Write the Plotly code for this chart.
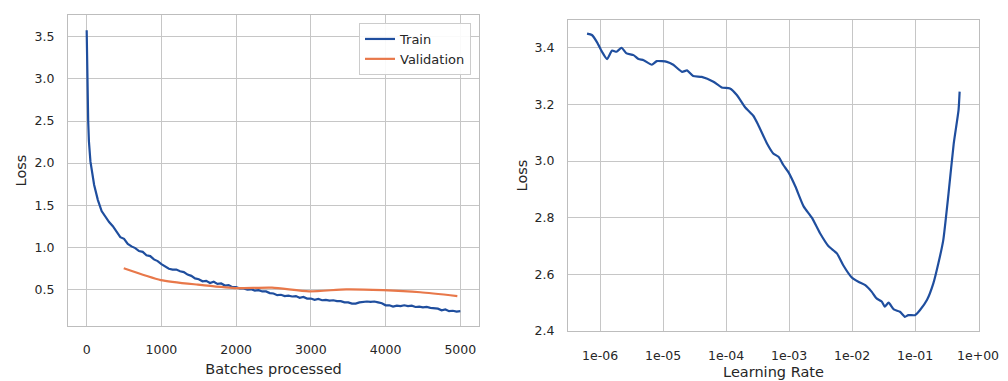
import plotly.graph_objects as go

# ---------------- data ----------------
train_x = [0, 5, 10, 20, 30, 40] + list(range(50, 5001, 50))
train_loss = [3.58, 3.20, 2.80, 2.50, 2.26, 2.12,
              2.02, 1.74, 1.56, 1.43, 1.36, 1.30, 1.25, 1.19, 1.12, 1.10,
              1.04, 1.01, 0.99, 0.955, 0.945, 0.905, 0.895, 0.855, 0.835, 0.80,
              0.775, 0.745, 0.735, 0.735, 0.715, 0.705, 0.675, 0.66, 0.63, 0.62,
              0.595, 0.60, 0.575, 0.59, 0.565, 0.57, 0.545, 0.55, 0.525, 0.525,
              0.51, 0.51, 0.495, 0.50, 0.485, 0.49, 0.475, 0.475, 0.455, 0.45,
              0.43, 0.435, 0.42, 0.425, 0.415, 0.42, 0.40, 0.41, 0.39, 0.39,
              0.375, 0.385, 0.37, 0.375, 0.365, 0.37, 0.36, 0.36, 0.345, 0.345,
              0.33, 0.33, 0.345, 0.35, 0.355, 0.35, 0.355, 0.345, 0.335, 0.31,
              0.31, 0.295, 0.305, 0.30, 0.31, 0.30, 0.305, 0.29, 0.295, 0.285,
              0.29, 0.28, 0.275, 0.27, 0.25, 0.26, 0.24, 0.245, 0.235, 0.24,
              0.235, 0.235]

val_x = [496, 992, 1488, 1984, 2480, 2976, 3472, 3968, 4464, 4960]
val_loss = [0.75, 0.61, 0.555, 0.515, 0.52, 0.475, 0.50, 0.49, 0.465, 0.42]

lr_values = [6.2e-7, 7.4e-7, 8.9e-7, 1.07e-6, 1.29e-6, 1.55e-6, 1.82e-6, 2.19e-6,
             2.63e-6, 3.39e-6, 4.07e-6, 4.90e-6, 6.61e-6, 7.94e-6, 1.15e-5, 1.45e-5,
             2.0e-5, 2.4e-5, 3.0e-5, 4.1e-5, 6.3e-5, 8.5e-5, 1.15e-4, 1.48e-4,
             2.0e-4, 2.7e-4, 3.2e-4, 4.5e-4, 5.6e-4, 6.8e-4, 8.1e-4, 9.8e-4,
             1.26e-3, 1.7e-3, 2.3e-3, 3.1e-3, 4.2e-3, 5.75e-3, 7.2e-3, 9.8e-3,
             1.26e-2, 1.62e-2, 2.04e-2, 2.45e-2, 2.95e-2, 3.3e-2, 3.8e-2, 4.6e-2,
             5.75e-2, 6.9e-2, 7.8e-2, 1.0e-1, 1.2e-1, 1.55e-1, 1.95e-1, 2.35e-1,
             2.8e-1, 3.4e-1, 4.1e-1, 4.9e-1, 5.1e-1]
lr_loss = [3.45, 3.445, 3.42, 3.386, 3.36, 3.39, 3.386, 3.40,
           3.38, 3.374, 3.36, 3.356, 3.34, 3.353, 3.35, 3.34,
           3.315, 3.32, 3.30, 3.297, 3.28, 3.26, 3.256, 3.233,
           3.19, 3.16, 3.13, 3.06, 3.027, 3.015, 2.986, 2.96,
           2.91, 2.84, 2.80, 2.745, 2.70, 2.674, 2.633, 2.59,
           2.574, 2.562, 2.539, 2.515, 2.504, 2.486, 2.50, 2.476,
           2.468, 2.45, 2.456, 2.456, 2.474, 2.51, 2.568, 2.64,
           2.72, 2.886, 3.06, 3.18, 3.245]

left_xticks = [0, 1000, 2000, 3000, 4000, 5000]
left_yticks = [0.5, 1.0, 1.5, 2.0, 2.5, 3.0, 3.5]
right_xticks = [1e-6, 1e-5, 1e-4, 1e-3, 1e-2, 1e-1, 1e0]
right_xticktext = ["1e-06", "1e-05", "1e-04", "1e-03", "1e-02", "1e-01", "1e+00"]
right_yticks = [2.4, 2.6, 2.8, 3.0, 3.2, 3.4]

# ---------------- styling ----------------
W, H = 1008, 381
BLUE = "#1f4e9e"
ORANGE = "#e8784a"
GRID = "#c6c6c6"
FRAME = "#bdbdbd"
TXT = "#262626"
FONT = "DejaVu Sans"

fig = go.Figure()
fig.add_trace(go.Scatter(x=train_x, y=train_loss, mode="lines", name="Train",
                         line=dict(color=BLUE, width=2.2), xaxis="x", yaxis="y"))
fig.add_trace(go.Scatter(x=val_x, y=val_loss, mode="lines", name="Validation",
                         line=dict(color=ORANGE, width=2.2, shape="spline", smoothing=0.6),
                         xaxis="x", yaxis="y"))
fig.add_trace(go.Scatter(x=lr_values, y=lr_loss, mode="lines", name="LR",
                         line=dict(color=BLUE, width=2.2, shape="spline", smoothing=0.5),
                         xaxis="x2", yaxis="y2", showlegend=False))

def px_x(p):
    return p / W

def px_y(p):
    return 1 - p / H

common = dict(showgrid=True, gridcolor=GRID, gridwidth=1.2, showline=True,
              linecolor=FRAME, linewidth=1.2, mirror=True, zeroline=False,
              ticks="", tickfont=dict(family=FONT, size=12.5, color=TXT),
              automargin=False)

TITLE_FONT = dict(family=FONT, size=14.5, color=TXT)

fig.update_layout(
    width=W, height=H,
    margin=dict(l=0, r=0, t=0, b=0),
    paper_bgcolor="white", plot_bgcolor="white",
    font=dict(family=FONT, size=13, color=TXT),
    xaxis=dict(domain=[px_x(68), px_x(479)], range=[-250, 5250],
               tickvals=left_xticks, ticklabelstandoff=12,
               title=dict(text="Batches processed", standoff=7, font=TITLE_FONT),
               anchor="y", **common),
    yaxis=dict(domain=[px_y(326), px_y(15)], range=[0.064, 3.76],
               tickvals=left_yticks, tickformat=".1f", ticklabelstandoff=10,
               title=dict(text="Loss", standoff=4, font=TITLE_FONT),
               anchor="x", **common),
    xaxis2=dict(domain=[px_x(568), px_x(979)], type="log", range=[-6.51, 0.015],
                tickvals=right_xticks, ticktext=right_xticktext, ticklabelstandoff=13,
                title=dict(text="Learning Rate", standoff=4, font=TITLE_FONT),
                anchor="y2", **common),
    yaxis2=dict(domain=[px_y(331), px_y(20)], range=[2.4, 3.498],
                tickvals=right_yticks, tickformat=".1f", ticklabelstandoff=10,
                title=dict(text="Loss", standoff=3, font=TITLE_FONT),
                anchor="x2", **common),
    legend=dict(x=px_x(471), y=px_y(23), xanchor="right", yanchor="top",
                bgcolor="rgba(255,255,255,0.9)", bordercolor="#cccccc", borderwidth=1,
                font=dict(family=FONT, size=13, color=TXT),
                itemwidth=30),
    showlegend=True,
)

fig.write_html("out.html",
               config={"displayModeBar": False},
               post_script="document.body.style.margin='0px';"
                           "document.body.style.overflow='hidden';")
